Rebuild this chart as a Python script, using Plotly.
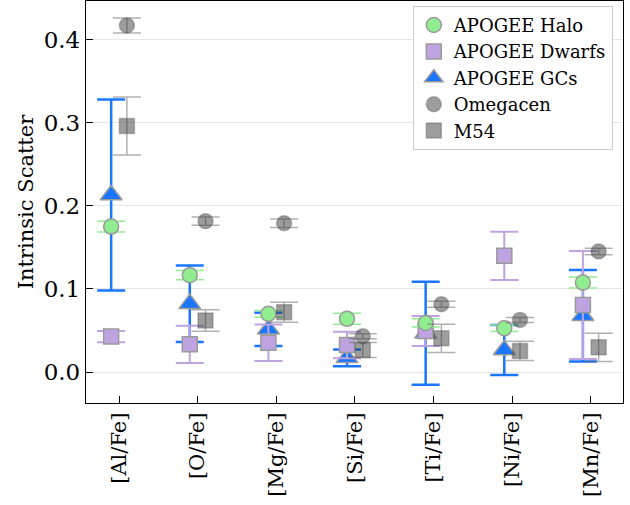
import plotly.graph_objects as go

categories = ["[Al/Fe]", "[O/Fe]", "[Mg/Fe]", "[Si/Fe]", "[Ti/Fe]", "[Ni/Fe]", "[Mn/Fe]"]

halo = [0.175, 0.1165, 0.070, 0.064, 0.059, 0.0526, 0.1076]
halo_err = [0.0065, 0.0055, 0.004, 0.0066, 0.005, 0.004, 0.0066]

dwarfs = [0.0426, 0.0333, 0.0353, 0.0325, 0.0494, 0.1398, 0.0807]
dwarfs_err = [0.0068, 0.0225, 0.022, 0.016, 0.018, 0.029, 0.065]

gcs = [0.213, 0.082, 0.0514, 0.017, 0.0466, 0.0265, 0.0676]
gcs_err = [0.115, 0.046, 0.020, 0.010, 0.062, 0.030, 0.055]

omega = [0.417, 0.1815, 0.179, 0.043, 0.0815, 0.0627, 0.145]
omega_err = [0.009, 0.005, 0.005, 0.003, 0.0035, 0.003, 0.004]

m54 = [0.296, 0.062, 0.072, 0.0265, 0.0406, 0.0253, 0.0297]
m54_err = [0.035, 0.013, 0.012, 0.009, 0.017, 0.0116, 0.017]

OFF = 0.1
idx = list(range(len(categories)))
x_left = [i - OFF for i in idx]
x_right = [i + OFF for i in idx]

FONT = "DejaVu Serif"
EDGE = dict(color="#9a9a9a", width=1.5)
CAPW = 14

fig = go.Figure()

def add(name, x, y, err, color, symbol, size, rank, ecolor=None, ethick=2, line=EDGE):
    fig.add_trace(go.Scatter(
        x=x, y=y, mode="markers", name=name, legendrank=rank,
        marker=dict(symbol=symbol, size=size, color=color, line=line),
        error_y=dict(type="data", array=err, visible=True,
                     color=ecolor or color, thickness=ethick, width=CAPW),
    ))

add("APOGEE GCs", x_left, gcs, gcs_err, "#1a76ff", "triangle-up", 19, 3, ethick=2.5)
add("APOGEE Dwarfs", x_left, dwarfs, dwarfs_err, "#bfa3e0", "square", 15, 2, ethick=2)
add("APOGEE Halo", x_left, halo, halo_err, "#90ee90", "circle", 15, 1, ethick=1.5)
grey_line = dict(color="rgba(90,90,90,0.4)", width=1.5)
add("Omegacen", x_right, omega, omega_err, "rgba(60,60,60,0.5)", "circle", 15, 4,
    ecolor="rgba(100,100,100,0.5)", ethick=1.5, line=grey_line)
add("M54", x_right, m54, m54_err, "rgba(60,60,60,0.5)", "square", 15, 5,
    ecolor="rgba(100,100,100,0.5)", ethick=1.5, line=grey_line)

fig.update_layout(
    width=630, height=505,
    margin=dict(l=86, r=7, t=1, b=102),
    paper_bgcolor="white", plot_bgcolor="white",
    font=dict(family=FONT, size=18, color="black", weight=400),
    showlegend=True,
    legend=dict(x=0.981, y=0.988, xanchor="right", yanchor="top",
                bgcolor="white", bordercolor="#cccccc", borderwidth=1,
                font=dict(family=FONT, size=18, weight=400), tracegroupgap=0),
)
fig.update_xaxes(
    range=[-0.42, 6.41], tickmode="array", tickvals=idx, ticktext=categories,
    tickangle=-90, ticks="inside", ticklen=7, tickcolor="black",
    showline=True, mirror=True, linecolor="black", linewidth=1.3,
    showgrid=False, zeroline=False, tickfont=dict(family=FONT, size=21, weight=400),
)
fig.update_yaxes(
    range=[-0.0373, 0.4464], dtick=0.1, tick0=0, tickformat=".1f",
    ticks="inside", ticklen=7, tickcolor="black",
    showline=True, mirror=True, linecolor="black", linewidth=1.3,
    showgrid=True, gridcolor="#e6e6e6", gridwidth=1, zeroline=False,
    title=dict(text="Intrinsic Scatter", font=dict(family=FONT, size=21, weight=400), standoff=4),
    tickfont=dict(family=FONT, size=23, weight=400),
)

fig.write_html("out.html")
